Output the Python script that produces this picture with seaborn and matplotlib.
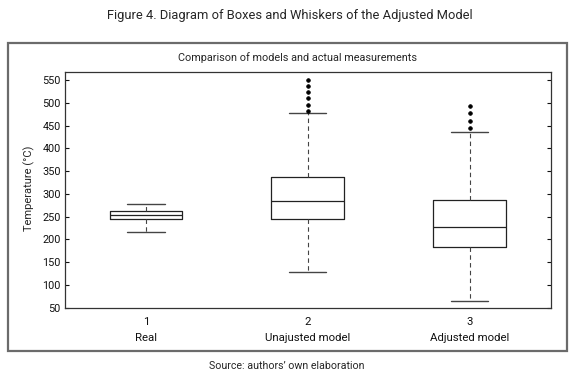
import matplotlib
matplotlib.use("Agg")
import matplotlib.pyplot as plt
from matplotlib.patches import Rectangle
import seaborn as sns
import pandas as pd

# Box statistics
labels = ['Real', 'Unajusted model', 'Adjusted model']
whisker_low = [215, 129, 65]
q1 = [245, 245, 183]
median = [254, 285, 228]
q3 = [262, 337, 287]
whisker_high = [278, 478, 436]
outliers_unadjusted = [483, 496, 510, 523, 537, 551]
outliers_adjusted = [445, 461, 477, 493]

sns.set_style('white')
plt.rcParams['font.family'] = ['Roboto', 'DejaVu Sans']

stats = []
for i, lab in enumerate(labels):
    stats.append(dict(label=lab, whislo=whisker_low[i], q1=q1[i], med=median[i],
                      q3=q3[i], whishi=whisker_high[i], fliers=[]))

fliers = pd.DataFrame({
    'pos': [2] * len(outliers_unadjusted) + [3] * len(outliers_adjusted),
    'value': outliers_unadjusted + outliers_adjusted,
})

fig = plt.figure(figsize=(5.8, 3.86), dpi=100)
ax = fig.add_axes([65 / 580, 1 - 307.5 / 386, (550.7 - 65) / 580, (307.5 - 72) / 386])

ax.bxp(stats, positions=[1, 2, 3], widths=0.45, capwidths=0.23, showfliers=False,
       boxprops=dict(color='#222222', lw=0.9),
       medianprops=dict(color='#222222', lw=0.9),
       whiskerprops=dict(color='#444444', lw=0.8, linestyle=(0, (4, 3))),
       capprops=dict(color='#444444', lw=1.0))
sns.scatterplot(data=fliers, x='pos', y='value', ax=ax, color='black', s=7,
                edgecolor='black', linewidth=0.5, legend=False, zorder=3)

ax.set_xlim(0.5, 3.5)
ax.set_ylim(50, 568)
ax.set_yticks(range(50, 551, 50))
ax.set_xticks([1, 2, 3])
ax.set_xticklabels([f'{i + 1}\n{lab}' for i, lab in enumerate(labels)], fontsize=8.2,
                   linespacing=1.75)
ax.tick_params(axis='y', labelsize=7.8, direction='in', length=3, right=True, left=True,
               pad=3, colors='#111111')
ax.tick_params(axis='x', direction='in', length=0, pad=7, colors='#111111')
ax.set_xlabel('')
ax.set_ylabel('')
for s in ax.spines.values():
    s.set_color('#333333')
    s.set_linewidth(0.9)

fig.text(29 / 580, 1 - 188 / 386, 'Temperature (°C)', rotation=90, ha='center',
         va='center', fontsize=8)
fig.text(297.5 / 580, 1 - 58 / 386, 'Comparison of models and actual measurements',
         ha='center', va='center', fontsize=7.8)
fig.text(290 / 580, 1 - 15 / 386,
         'Figure 4. Diagram of Boxes and Whiskers of the Adjusted Model',
         ha='center', va='center', fontsize=9.3)
fig.text(287 / 580, 1 - 366 / 386, 'Source: authors\u2019 own elaboration',
         ha='center', va='center', fontsize=7.7)

fig.add_artist(Rectangle((8 / 580, 1 - 351 / 386), (567 - 8) / 580, (351 - 43) / 386,
                         transform=fig.transFigure, fill=False, ec='#6b6b6b', lw=1.6))

fig.savefig('out.png', dpi=100)
